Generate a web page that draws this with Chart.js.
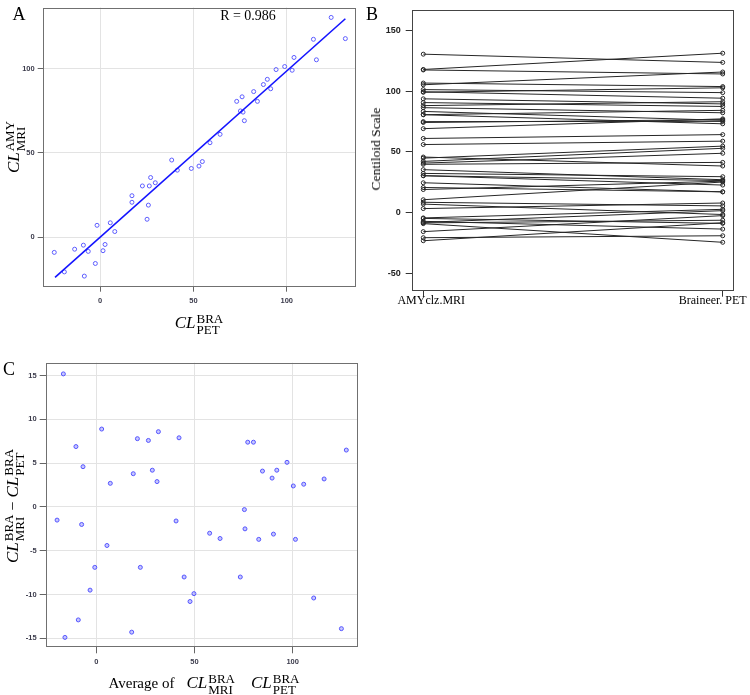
<!DOCTYPE html>
<html>
<head>
<meta charset="utf-8">
<script src="https://cdn.jsdelivr.net/npm/chart.js@4/dist/chart.umd.min.js"></script>
<style>
  body { margin: 0; width: 750px; height: 695px; background: #fff; position: relative; overflow: hidden; }
  canvas { position: absolute; }
  .lbl { position: absolute; transform: translate(-50%, -50%); white-space: nowrap; font-family: "Liberation Serif", serif; color: #000; }
  .rot { transform: translate(-50%, -50%) rotate(-90deg); }
  .cl { font-style: italic; font-size: 17px; }
  .ss { display: inline-flex; flex-direction: column; vertical-align: middle; font-size: 13px; line-height: 11px; margin-left: 1px; }
  .letter { font-size: 18px; }
</style>
</head>
<body>
<canvas id="chartA" width="370" height="320" style="left:0;top:0"></canvas>
<canvas id="chartB" width="370" height="320" style="left:380px;top:0"></canvas>
<canvas id="chartC" width="370" height="330" style="left:0;top:355px"></canvas>

<div class="lbl letter" style="left:19px;top:14px">A</div>
<div class="lbl letter" style="left:372px;top:14px">B</div>
<div class="lbl letter" style="left:9px;top:369px">C</div>
<div class="lbl" style="left:248px;top:16px;font-size:14px">R = 0.986</div>

<div class="lbl" style="left:199px;top:324px"><span class="cl">CL</span><span class="ss"><span>BRA</span><span>PET</span></span></div>
<div class="lbl rot" style="left:15px;top:147px"><span class="cl">CL</span><span class="ss"><span>AMY</span><span>MRI</span></span></div>
<div class="lbl rot" style="left:376px;top:149px;font-size:13.5px">Centiloid Scale</div>
<div class="lbl rot" style="left:14px;top:506px"><span class="cl">CL</span><span class="ss"><span>BRA</span><span>MRI</span></span> − <span class="cl">CL</span><span class="ss"><span>BRA</span><span>PET</span></span></div>
<div class="lbl" style="left:204px;top:684px"><span style="font-size:15px">Average of</span>&nbsp;&nbsp;&nbsp;<span class="cl">CL</span><span class="ss"><span>BRA</span><span>MRI</span></span>&nbsp;&nbsp;&nbsp;&nbsp;<span class="cl">CL</span><span class="ss"><span>BRA</span><span>PET</span></span></div>

<script>
// panel A / B: same subjects, PET (Braineer) vs MRI (AMYclz)
const petBRA = [-24.5, -19.1, -13.6, -8.9, -8.4, -6.3, -2.5, -1.6, 1.6, 2.7, 5.5, 7.9, 17.1, 17.1, 22.7, 25.2, 25.9, 26.4, 27.1, 29.6, 38.4, 41.4, 48.9, 53.0, 54.8, 58.9, 64.3, 73.2, 75.2, 76.1, 76.6, 77.3, 82.3, 84.3, 87.5, 89.6, 91.4, 94.3, 98.9, 102.9, 103.9, 114.3, 115.9, 123.8, 131.4];
const mriAMY = [-9.1, -20.7, -7.2, -4.8, -23.2, -8.5, -15.7, 7.0, -8.1, -4.4, 8.5, 3.3, 24.6, 20.7, 30.4, 10.6, 19.0, 30.4, 35.4, 32.3, 45.8, 39.8, 40.8, 42.2, 44.9, 56.1, 61.1, 80.7, 75.0, 83.4, 74.3, 69.2, 86.5, 80.7, 90.7, 93.8, 88.2, 99.6, 101.4, 99.2, 106.8, 117.6, 105.4, 130.6, 118.0];

// regression line ends
const fitX = [-24.1, 131.4];
const fitY = [-24.0, 129.8];

// panel C: Bland-Altman
const avgBRA = [-16.8, -20.0, -16.0, -10.4, -9.2, -6.8, -7.5, -3.2, -0.8, 2.7, 5.4, 7.1, 18.8, 18.0, 20.9, 22.4, 26.5, 28.5, 30.9, 31.6, 40.6, 42.1, 44.7, 47.7, 49.7, 57.7, 63.0, 73.3, 75.4, 75.7, 77.1, 80.0, 82.7, 84.6, 89.5, 90.2, 91.9, 97.1, 100.3, 101.4, 105.6, 110.7, 116.0, 124.8, 127.3];
const diffBRA = [15.2, -1.5, -14.9, 6.9, -12.9, 4.6, -2.0, -9.5, -6.9, 8.9, -4.4, 2.7, 3.8, -14.3, 7.8, -6.9, 7.6, 4.2, 2.9, 8.6, -1.6, 7.9, -8.0, -10.8, -9.9, -3.0, -3.6, -8.0, -0.3, -2.5, 7.4, 7.4, -3.7, 4.1, 3.3, -3.1, 4.2, 5.1, 2.4, -3.7, 2.6, -10.4, 3.2, -13.9, 6.5];

const methods = ["AMYclz.MRI", "Braineer. PET"];

const aXTicks = [0, 50, 100];
const aYTicks = [0, 50, 100];
const bYTicks = [-50, 0, 50, 100, 150];
const cXTicks = [0, 50, 100];
const cYTicks = [-15, -10, -5, 0, 5, 10, 15];

const tickFont = { family: "Liberation Sans", size: 7.5, weight: "bold" };

function fixedTicks(values) {
  return (scale) => {
    scale.ticks = values.map((v) => ({ value: v }));
  };
}

const boxPlugin = {
  id: "box",
  beforeDatasetsDraw(chart, args, opts) {
    const { ctx, chartArea: a } = chart;
    ctx.save();
    ctx.strokeStyle = opts.color || "#666";
    ctx.lineWidth = 1;
    const l = Math.round(a.left) + 0.5;
    const t = Math.round(a.top) + 0.5;
    const r = Math.round(a.right) - 0.5;
    const b = Math.round(a.bottom) - 0.5;
    ctx.strokeRect(l, t, r - l, b - t);
    ctx.restore();
  },
};

const methodLabels = {
  id: "methodLabels",
  afterDraw(chart) {
    const { ctx, chartArea } = chart;
    const xs = chart.scales.x;
    const shift = [8, -10];
    ctx.save();
    ctx.font = "12px 'Liberation Serif'";
    ctx.fillStyle = "#000";
    ctx.textAlign = "center";
    ctx.textBaseline = "alphabetic";
    methods.forEach((name, i) => {
      ctx.fillText(name, xs.getPixelForValue(i) + shift[i], chartArea.bottom + 13.5);
    });
    ctx.restore();
  },
};

function scatterScale(min, max, ticks, fit, padding, tickLength) {
  return {
    type: "linear",
    min,
    max,
    afterBuildTicks: fixedTicks(ticks),
    afterFit: fit,
    grid: { color: "#e3e3e3", tickColor: "#666", tickLength },
    border: { display: false },
    ticks: { font: tickFont, color: "#3d3d4d", padding, maxRotation: 0 },
  };
}

const baseOptions = {
  responsive: false,
  animation: false,
  devicePixelRatio: 1,
  events: [],
};

new Chart(document.getElementById("chartA"), {
  type: "scatter",
  data: {
    datasets: [
      {
        type: "line",
        data: fitX.map((x, i) => ({ x, y: fitY[i] })),
        borderColor: "#1414ff",
        borderWidth: 1.6,
        pointRadius: 0,
      },
      {
        data: petBRA.map((x, i) => ({ x, y: mriAMY[i] })),
        pointRadius: 2,
        borderColor: "#5c5cff",
        backgroundColor: "rgba(0,0,0,0)",
        borderWidth: 1,
      },
    ],
  },
  options: {
    ...baseOptions,
    layout: { padding: { top: 1, right: 14, left: 0, bottom: 0 } },
    plugins: { legend: { display: false }, tooltip: { enabled: false }, box: { color: "#707070" } },
    scales: {
      x: scatterScale(-30.7, 137.1, aXTicks, (s) => { s.height = 33.3; }, 5, 5),
      y: scatterScale(-29.5, 136.5, aYTicks, (s) => { s.width = 42.7; }, 3, 5),
    },
  },
  plugins: [boxPlugin],
});

new Chart(document.getElementById("chartB"), {
  type: "line",
  data: {
    datasets: mriAMY.map((m, i) => ({
      data: [{ x: 0, y: m }, { x: 1, y: petBRA[i] }],
      borderColor: "#262626",
      borderWidth: 1,
      pointRadius: 2,
      pointBorderColor: "#262626",
      pointBackgroundColor: "rgba(0,0,0,0)",
      pointBorderWidth: 1,
    })),
  },
  options: {
    ...baseOptions,
    layout: { padding: { top: 1, right: 16, left: 0, bottom: 0 } },
    plugins: { legend: { display: false }, tooltip: { enabled: false }, box: { color: "#444" } },
    scales: {
      x: {
        type: "linear",
        min: -0.0387,
        max: 1.0377,
        afterBuildTicks: fixedTicks([0, 1]),
        afterFit: (s) => { s.height = 29.3; },
        grid: { drawOnChartArea: false, tickColor: "#333", tickLength: 6 },
        border: { display: false },
        ticks: { display: false },
      },
      y: {
        type: "linear",
        min: -64.4,
        max: 166.7,
        afterBuildTicks: fixedTicks(bYTicks),
        afterFit: (s) => { s.width = 31.7; },
        grid: { drawOnChartArea: false, tickColor: "#333", tickLength: 6 },
        border: { display: false },
        ticks: { font: { family: "Liberation Sans", size: 9, weight: "bold" }, color: "#222", padding: 5 },
      },
    },
  },
  plugins: [boxPlugin, methodLabels],
});

new Chart(document.getElementById("chartC"), {
  type: "scatter",
  data: {
    datasets: [
      {
        data: avgBRA.map((x, i) => ({ x, y: diffBRA[i] })),
        pointRadius: 2,
        borderColor: "#5454ff",
        backgroundColor: "rgba(130,130,255,0.45)",
        borderWidth: 1,
      },
    ],
  },
  options: {
    ...baseOptions,
    layout: { padding: { top: 7.7, right: 12.3, left: 0, bottom: 0 } },
    plugins: { legend: { display: false }, tooltip: { enabled: false }, box: { color: "#707070" } },
    scales: {
      x: scatterScale(-25.8, 133.1, cXTicks, (s) => { s.height = 37.7; }, 4, 6),
      y: scatterScale(-16.03, 16.48, cYTicks, (s) => { s.width = 45.7; }, 3, 6),
    },
  },
  plugins: [boxPlugin],
});
</script>
</body>
</html>
